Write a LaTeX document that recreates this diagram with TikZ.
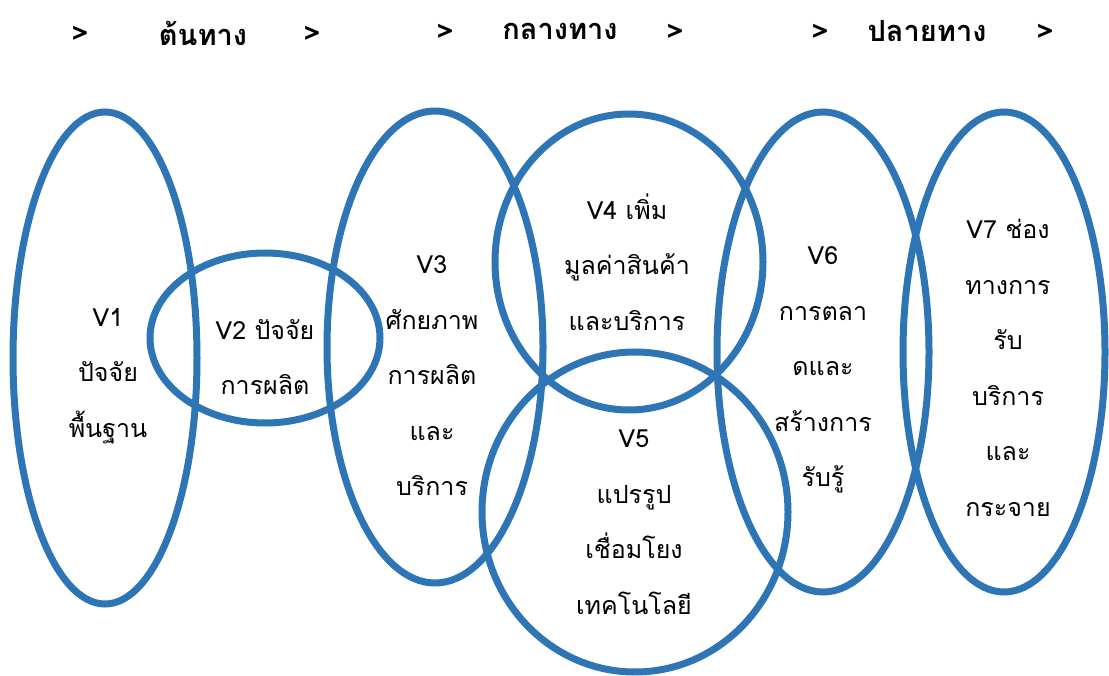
\documentclass[tikz,border=0pt]{standalone}
\usepackage{fontspec}
\newfontfamily\thaifont[Script=Thai]{Loma}
\usepackage{tikz}
\usetikzlibrary{positioning}
\definecolor{ringblue}{HTML}{2E75B6}

\tikzset{
  ring/.style={line width=7pt, draw=ringblue},
  label/.style={font=\thaifont\fontsize{25}{55.5}\selectfont, align=center, inner sep=0pt},
  head/.style={font=\thaifont\bfseries\fontsize{29}{30}\selectfont, inner sep=0pt}
}

\begin{document}
\begin{tikzpicture}[x=1pt, y=-1pt]
  \useasboundingbox (0,0) rectangle (1109,676);
  % header
  \node[head] (g1) at (80,35) {>};
  \node[head] (start) at (203,33) {ต้นทาง};
  \node[head] (g2) at (312,35) {>};
  \node[head] (g3) at (445,33) {>};
  \node[head] (middle) at (560,31) {กลางทาง};
  \node[head] (g4) at (675,33) {>};
  \node[head] (g5) at (820,33) {>};
  \node[head] (finish) at (927,31) {ปลายทาง};
  \node[head] (g6) at (1045,33) {>};
  % rings
  \draw[ring] (105,358) ellipse [x radius=92pt, y radius=246pt];
  \draw[ring] (265,338) ellipse [x radius=115pt, y radius=85pt];
  \draw[ring] (435,347) ellipse [x radius=108pt, y radius=236pt];
  \draw[ring] (629,262) ellipse [x radius=134pt, y radius=148pt];
  \draw[ring] (635,512) ellipse [x radius=153pt, y radius=160pt];
  \draw[ring] (823,352) ellipse [x radius=106pt, y radius=240pt];
  \draw[ring] (1004,352) ellipse [x radius=101pt, y radius=240pt];
  % texts
  \node[label] (v1) at (108,376) {V1\\ปัจจัย\\พื้นฐาน};
  \node[label] (v2) at (265,357) {V2 ปัจจัย\\การผลิต};
  \node[label] (v3) at (432,376) {V3\\ศักยภาพ\\การผลิต\\และ\\บริการ};
  \node[label] (v4) at (627,262) {V4 เพิ่ม\\มูลค่าสินค้า\\และบริการ};
  \begin{scope}
    \clip (480,420) rectangle (790,617);
    \node[label] (v5) at (634,522) {V5\\แปรรูป\\เชื่อมโยง\\เทคโนโลยี};
  \end{scope}
  \node[label] (v6) at (823,370) {V6\\การตลา\\ดและ\\สร้างการ\\รับรู้};
  \node[label] (v7) at (1008,368) {V7 ช่อง\\ทางการ\\รับ\\บริการ\\และ\\กระจาย};
\end{tikzpicture}
\end{document}
